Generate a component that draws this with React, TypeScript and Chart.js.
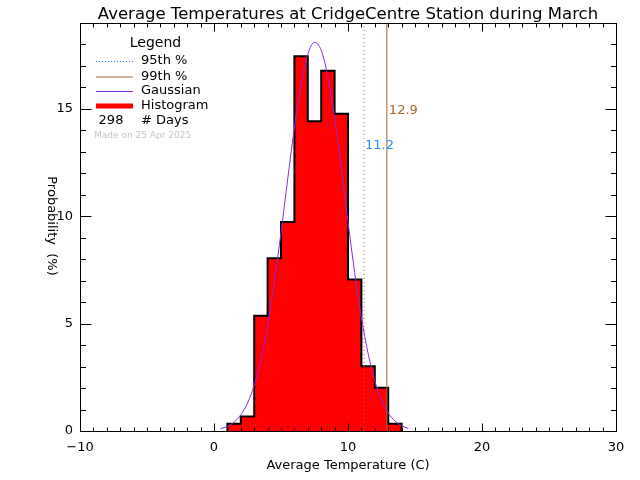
import React, { useEffect, useRef } from "react";
import { Chart, registerables } from "chart.js";

Chart.register(...registerables);

// ---- data ----
const titleText = "Average Temperatures at CridgeCentre Station during March";
const xAxisTitle = "Average Temperature (C)";
const yAxisTitle = "Probability  (%)";

const xRange = [-10, 30];
const yRange = [0, 19];
const xTickLabels = [-10, 0, 10, 20, 30];
const yTickLabels = [0, 5, 10, 15];

// histogram bin edges (deg C) and probability (%) per bin
const binEdges = [1, 2, 3, 4, 5, 6, 7, 8, 9, 10, 11, 12, 13, 14];
const binPercent = [0.34, 0.67, 5.37, 8.05, 9.73, 17.45, 14.43, 16.78, 14.77, 7.05, 3.02, 2.01, 0.34];

// Gaussian curve
const gaussX = [0.5, 1, 1.5, 2, 2.5, 3, 3.5, 4, 4.5, 5, 5.5, 6, 6.5, 7, 7.5, 8, 8.5, 9, 9.5, 10, 10.5, 11, 11.5, 12, 12.5, 13, 13.5, 14, 14.5];
const gaussY = [0.11, 0.22, 0.41, 0.75, 1.3, 2.13, 3.33, 4.92, 6.92, 9.24, 11.73, 14.12, 16.15, 17.54, 18.1, 17.73, 16.49, 14.57, 12.22, 9.74, 7.37, 5.29, 3.61, 2.34, 1.44, 0.84, 0.47, 0.25, 0.12];

const percentileNames = ["95th %", "99th %"];
const percentileValues = [11.2, 12.9];
const nDays = 298;
const madeOn = "Made on 25 Apr 2025";

// ---- styles ----
const FONT = "'DejaVu Sans', sans-serif";
const RED = "#ff0000";
const PURPLE = "#8a2be2";
const BROWN = "#a8652a";
const DOT_COLOR = "#b8702a";
const BLUE = "#1e8fff";

const fmtTick = (v: number) => (v < 0 ? "\u2212" + Math.abs(v) : String(v));

const framePlugin = {
  id: "frame",
  afterDatasetsDraw(chart: any) {
    const { ctx, chartArea, scales } = chart;
    const { left, right, top, bottom } = chartArea;
    const xs = scales.x;
    const ys = scales.y;
    const L = Math.round(left) + 0.5;
    const R = Math.round(right) + 0.5;
    const T = Math.round(top) + 0.5;
    const B = Math.round(bottom) + 0.5;
    ctx.save();
    ctx.strokeStyle = "#000";
    ctx.lineWidth = 1;
    ctx.beginPath();
    for (const t of xs.ticks) {
      const px = Math.round(xs.getPixelForValue(t.value)) + 0.5;
      const len = xTickLabels.includes(t.value) ? 8 : 4;
      ctx.moveTo(px, B);
      ctx.lineTo(px, B - len);
      ctx.moveTo(px, T);
      ctx.lineTo(px, T + len);
    }
    for (const t of ys.ticks) {
      const py = Math.round(ys.getPixelForValue(t.value)) + 0.5;
      const len = yTickLabels.includes(t.value) ? 11 : 5.5;
      ctx.moveTo(L, py);
      ctx.lineTo(L + len, py);
      ctx.moveTo(R, py);
      ctx.lineTo(R - len, py);
    }
    ctx.stroke();
    ctx.strokeRect(L, T, R - L, B - T);
    ctx.restore();
  },
};

const textPlugin = {
  id: "texts",
  afterDraw(chart: any) {
    const { ctx, chartArea, scales } = chart;
    const cx = (chartArea.left + chartArea.right) / 2;
    ctx.save();
    ctx.fillStyle = "#000";
    ctx.textAlign = "center";
    ctx.textBaseline = "alphabetic";
    ctx.font = `16.5px ${FONT}`;
    ctx.fillText(titleText, cx, 19);

    ctx.font = `13px ${FONT}`;
    ctx.textBaseline = "middle";
    ctx.fillText(xAxisTitle, cx, 466);

    ctx.save();
    ctx.translate(51, 226);
    ctx.rotate(Math.PI / 2);
    ctx.font = `13px ${FONT}`;
    ctx.fillText(yAxisTitle, 0, 0);
    ctx.restore();

    // percentile labels
    const p0 = scales.x.getPixelForValue(percentileValues[0]);
    const p1 = scales.x.getPixelForValue(percentileValues[1]);
    ctx.textAlign = "left";
    ctx.font = `13px ${FONT}`;
    ctx.fillStyle = BLUE;
    ctx.fillText(percentileValues[0].toFixed(1), p0 + 1, 146);
    ctx.fillStyle = BROWN;
    ctx.fillText(percentileValues[1].toFixed(1), p1 + 2, 111);

    // legend
    ctx.fillStyle = "#000";
    ctx.textAlign = "center";
    ctx.font = `14px ${FONT}`;
    ctx.fillText("Legend", 155.5, 43);

    const lx0 = 96;
    const lx1 = 133;
    const tx = 141;
    const rows = [61, 76.5, 91, 106];
    ctx.font = `13px ${FONT}`;
    ctx.textAlign = "left";

    ctx.strokeStyle = BLUE;
    ctx.lineWidth = 1;
    ctx.setLineDash([1, 2]);
    ctx.beginPath();
    ctx.moveTo(lx0, rows[0] + 0.5);
    ctx.lineTo(lx1, rows[0] + 0.5);
    ctx.stroke();
    ctx.setLineDash([]);
    ctx.fillText(percentileNames[0], tx, rows[0]);

    ctx.strokeStyle = BROWN;
    ctx.beginPath();
    ctx.moveTo(lx0, rows[1] + 0.5);
    ctx.lineTo(lx1, rows[1] + 0.5);
    ctx.stroke();
    ctx.fillText(percentileNames[1], tx, rows[1]);

    ctx.strokeStyle = PURPLE;
    ctx.beginPath();
    ctx.moveTo(lx0, rows[2] + 0.5);
    ctx.lineTo(lx1, rows[2] + 0.5);
    ctx.stroke();
    ctx.fillText("Gaussian", tx, rows[2]);

    ctx.fillStyle = RED;
    ctx.fillRect(lx0, rows[3] - 2.5, lx1 - lx0, 5);
    ctx.fillStyle = "#000";
    ctx.fillText("Histogram", tx, rows[3]);

    ctx.textAlign = "center";
    ctx.fillText(String(nDays), 111, 121);
    ctx.textAlign = "left";
    ctx.fillText("# Days", tx, 121);

    ctx.fillStyle = "#c4c4c4";
    ctx.font = `9px ${FONT}`;
    ctx.fillText(madeOn, 94, 135.5);
    ctx.restore();
  },
};

export default function App() {
  const ref = useRef<HTMLCanvasElement>(null);
  useEffect(() => {
    const canvas = ref.current;
    if (!canvas) return;
    const histPoints = [
      { x: binEdges[0], y: 0 },
      ...binPercent.map((v, i) => ({ x: binEdges[i], y: v })),
      { x: binEdges[binEdges.length - 1], y: 0 },
    ];
    const gaussPoints = gaussX.map((x, i) => ({ x, y: gaussY[i] }));
    const vline = (v: number) => [
      { x: v, y: yRange[0] },
      { x: v, y: yRange[1] },
    ];
    const chart = new Chart(canvas, {
      type: "line",
      data: {
        datasets: [
          {
            label: "Gaussian",
            data: gaussPoints,
            borderColor: PURPLE,
            borderWidth: 1,
            pointRadius: 0,
            cubicInterpolationMode: "monotone",
            fill: false,
            order: 0,
          },
          {
            label: percentileNames[0],
            data: vline(percentileValues[0]),
            borderColor: DOT_COLOR,
            borderWidth: 1,
            borderDash: [1, 3],
            pointRadius: 0,
            fill: false,
            order: 1,
          },
          {
            label: percentileNames[1],
            data: vline(percentileValues[1]),
            borderColor: BROWN,
            borderWidth: 1,
            pointRadius: 0,
            fill: false,
            order: 1,
          },
          {
            label: "Histogram",
            data: histPoints,
            stepped: "before",
            fill: "origin",
            backgroundColor: RED,
            borderColor: "#000",
            borderWidth: 2,
            pointRadius: 0,
            order: 3,
          },
        ],
      } as any,
      options: {
        animation: false,
        responsive: false,
        events: [],
        layout: { padding: { top: 23, right: 24, left: 0, bottom: 0 } },
        plugins: {
          legend: { display: false },
          tooltip: { enabled: false },
          title: { display: false },
        },
        scales: {
          x: {
            type: "linear",
            min: xRange[0],
            max: xRange[1],
            afterFit(s: any) {
              s.height = 49;
            },
            grid: { display: false, drawTicks: false },
            border: { display: false },
            ticks: {
              stepSize: 1,
              autoSkip: false,
              maxRotation: 0,
              padding: 9,
              color: "#000",
              font: { family: FONT, size: 13 },
              callback: (v: any) => (xTickLabels.includes(v) ? fmtTick(v) : ""),
            },
          },
          y: {
            type: "linear",
            min: yRange[0],
            max: yRange[1],
            afterFit(s: any) {
              s.width = 80;
            },
            grid: { display: false, drawTicks: false },
            border: { display: false },
            ticks: {
              stepSize: 1,
              autoSkip: false,
              padding: 7,
              color: "#000",
              font: { family: FONT, size: 13 },
              callback: (v: any) => (yTickLabels.includes(v) ? String(v) : ""),
            },
          },
        },
      } as any,
      plugins: [framePlugin, textPlugin],
    });
    return () => chart.destroy();
  }, []);
  return (
    <div style={{ position: "absolute", left: 0, top: 0, width: 640, height: 480, background: "#fff" }}>
      <canvas ref={ref} width={640} height={480} style={{ display: "block", width: 640, height: 480 }} />
    </div>
  );
}
